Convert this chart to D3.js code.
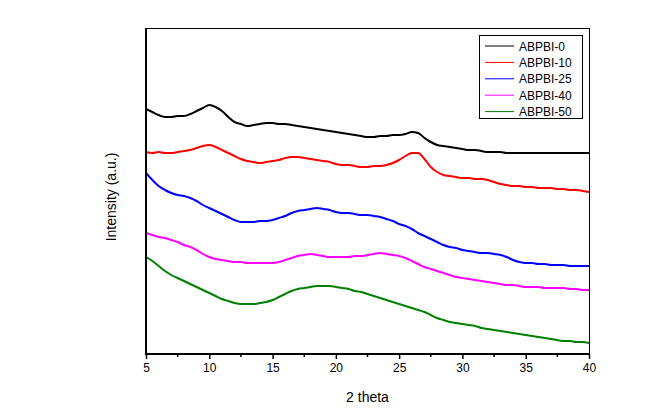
<!DOCTYPE html>
<html><head><meta charset="utf-8">
<script src="https://cdn.jsdelivr.net/npm/d3@7"></script>
<style>body{margin:0;background:#fff}svg{display:block}text{font-family:"Liberation Sans",Arial,sans-serif}</style>
</head><body><svg id="c" width="658" height="418"></svg>
<script>
// 2theta from 5 to 40 in 0.5 steps
const twoTheta = d3.range(71).map(i => 5 + i * 0.5);
const seriesNames = ["ABPBI-0", "ABPBI-10", "ABPBI-25", "ABPBI-40", "ABPBI-50"];
const seriesColors = ["#000000", "#ff0000", "#0000ff", "#ff00ff", "#007f00"];
const xTicks = [5, 10, 15, 20, 25, 30, 35, 40];
const abpbi0 = [245,242,239,237,237,238,238,240,243,246,249,247,243,237,232,230,228,229,230,231,231,230,230,229,228,227,226,225,224,223,222,221,220,219,218,217,217,218,218,219,219,220,222,221,216,212,209,208,207,206,205,204,204,203,202,202,202,201,201,201,201,201,201,201,201,201,201,201,201,201,201];
const abpbi10 = [202,201,202,201,201,202,203,204,206,208,209,207,204,201,198,195,193,192,191,192,193,194,196,197,197,196,195,194,193,192,190,189,189,188,187,187,188,188,189,191,194,198,201,201,195,187,182,179,178,177,176,176,175,175,174,172,170,169,168,168,167,167,166,166,166,165,165,164,164,163,162];
const abpbi25 = [181,174,168,164,161,159,158,156,153,149,146,143,140,137,134,132,132,132,133,133,134,136,138,141,143,144,145,146,145,144,142,141,141,140,139,139,138,137,135,133,130,128,125,121,118,115,112,109,107,106,104,103,102,101,101,100,99,97,94,92,91,91,90,90,89,89,89,88,88,88,88];
const abpbi40 = [121,119,117,116,114,112,109,107,104,100,97,95,94,93,92,92,91,91,91,91,91,92,94,96,98,99,100,99,98,97,97,97,97,98,98,99,100,101,100,99,98,96,93,90,87,85,83,81,79,77,76,75,74,73,72,71,70,69,69,68,67,67,67,66,66,66,66,65,65,64,64];
const abpbi50 = [97,93,88,83,79,76,73,70,67,64,61,58,55,53,51,50,50,50,51,52,54,57,60,63,65,66,67,68,68,68,67,66,65,63,62,60,58,56,54,52,50,48,46,44,42,39,36,34,32,31,30,29,28,26,25,24,23,22,21,20,19,18,17,16,15,14,13,13,12,12,11];
const allSeries = [abpbi0, abpbi10, abpbi25, abpbi40, abpbi50];

const svg = d3.select("#c");
const L = 146, R = 589, T = 28, B = 354;
const x = d3.scaleLinear().domain([5, 40]).range([L, R]);
const y = d3.scaleLinear().domain([0, 326]).range([B, T]);

// frame top & right (thin)
svg.append("line").attr("x1", L).attr("x2", R).attr("y1", T + 0.5).attr("y2", T + 0.5).attr("stroke", "#000").attr("stroke-width", 1);
svg.append("line").attr("x1", R + 0.5).attr("x2", R + 0.5).attr("y1", T).attr("y2", B).attr("stroke", "#000").attr("stroke-width", 1);

// lines
const line = d3.line().x((d, i) => x(twoTheta[i])).y(d => y(d)).curve(d3.curveMonotoneX);
allSeries.forEach((s, k) => {
  svg.append("path").datum(s).attr("d", line).attr("fill", "none")
    .attr("stroke", seriesColors[k]).attr("stroke-width", 2).attr("stroke-linejoin", "round");
});

// x axis
const xAxis = d3.axisBottom(x).tickValues(xTicks).tickSize(5).tickPadding(4).tickFormat(d3.format("d"));
const gx = svg.append("g").attr("transform", `translate(0,${B})`).call(xAxis);
gx.select(".domain").attr("stroke-width", 2).attr("d", `M${L - 1},0H${R + 1}`);
gx.selectAll(".tick line").attr("stroke-width", 1.5);
gx.selectAll(".tick text").attr("font-size", 12).attr("font-family", '"Liberation Sans",Arial,sans-serif').attr("fill", "#000");
const minor = d3.range(7.5, 40, 5);
gx.selectAll(".minor").data(minor).enter().append("line")
  .attr("x1", d => x(d)).attr("x2", d => x(d)).attr("y1", 0).attr("y2", 3)
  .attr("stroke", "#000").attr("stroke-width", 1.5);

// y axis (no ticks)
svg.append("line").attr("x1", L).attr("x2", L).attr("y1", T).attr("y2", B + 1).attr("stroke", "#000").attr("stroke-width", 2);

// axis titles
svg.append("text").attr("x", (L + R) / 2).attr("y", 402).attr("text-anchor", "middle").attr("font-size", 14).text("2 theta");
svg.append("text").attr("transform", `translate(116,197) rotate(-90)`).attr("text-anchor", "middle").attr("font-size", 14).text("Intensity (a.u.)");

// legend
const lg = svg.append("g");
lg.append("rect").attr("x", 479.5).attr("y", 35.5).attr("width", 103).attr("height", 83).attr("fill", "#fff").attr("stroke", "#000").attr("stroke-width", 1);
seriesNames.forEach((n, k) => {
  const yy = 46 + k * 16.4;
  lg.append("line").attr("x1", 485).attr("x2", 514).attr("y1", yy).attr("y2", yy).attr("stroke", seriesColors[k]).attr("stroke-width", 1);
  lg.append("text").attr("x", 519).attr("y", yy + 4.5).attr("font-size", 12).text(n);
});
</script></body></html>
